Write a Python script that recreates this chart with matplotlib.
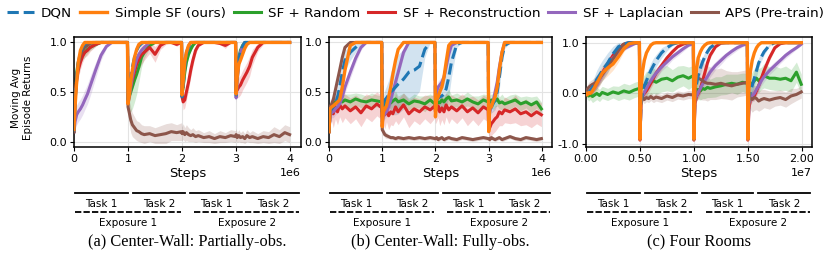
import matplotlib
matplotlib.use('Agg')
import matplotlib.pyplot as plt
from matplotlib.ticker import MultipleLocator, ScalarFormatter, FormatStrFormatter
import numpy as np

# x positions (a, b in units of 1e6 steps; c in units of 1e7 steps)
steps_ab = [0.00, 0.02, 0.05, 0.08, 0.12, 0.16, 0.20, 0.25, 0.30, 0.40, 0.50, 0.60, 0.70, 0.80, 0.90, 0.99,
            1.00, 1.02, 1.05, 1.08, 1.12, 1.16, 1.20, 1.25, 1.30, 1.40, 1.50, 1.60, 1.70, 1.80, 1.90, 1.99,
            2.00, 2.02, 2.05, 2.08, 2.12, 2.16, 2.20, 2.25, 2.30, 2.40, 2.50, 2.60, 2.70, 2.80, 2.90, 2.99,
            3.00, 3.02, 3.05, 3.08, 3.12, 3.16, 3.20, 3.25, 3.30, 3.40, 3.50, 3.60, 3.70, 3.80, 3.90, 3.99]
steps_c = [0.000, 0.010, 0.025, 0.040, 0.060, 0.080, 0.100, 0.125, 0.150, 0.200, 0.250, 0.300, 0.350, 0.400, 0.450, 0.495,
           0.500, 0.510, 0.525, 0.540, 0.560, 0.580, 0.600, 0.625, 0.650, 0.700, 0.750, 0.800, 0.850, 0.900, 0.950, 0.995,
           1.000, 1.010, 1.025, 1.040, 1.060, 1.080, 1.100, 1.125, 1.150, 1.200, 1.250, 1.300, 1.350, 1.400, 1.450, 1.495,
           1.500, 1.510, 1.525, 1.540, 1.560, 1.580, 1.600, 1.625, 1.650, 1.700, 1.750, 1.800, 1.850, 1.900, 1.950, 1.995]

labels = ['DQN', 'Simple SF (ours)', 'SF + Random', 'SF + Reconstruction', 'SF + Laplacian', 'APS (Pre-train)']
colors = ['#1f77b4', '#ff7f0e', '#2ca02c', '#d62728', '#9467bd', '#8c564b']

# ---- (a) Center-Wall: Partially-obs.
a_dqn = [0.10, 0.40, 0.65, 0.80, 0.90, 0.95, 0.98, 1.00, 1.00, 1.00, 1.00, 1.00, 1.00, 1.00, 1.00, 1.00,
         0.40, 0.50, 0.62, 0.75, 0.85, 0.92, 0.96, 0.99, 1.00, 1.00, 1.00, 1.00, 1.00, 1.00, 1.00, 1.00,
         0.45, 0.55, 0.75, 0.88, 0.95, 0.99, 1.00, 1.00, 1.00, 1.00, 1.00, 1.00, 1.00, 1.00, 1.00, 1.00,
         0.45, 0.65, 0.82, 0.90, 0.96, 1.00, 1.00, 1.00, 1.00, 1.00, 1.00, 1.00, 1.00, 1.00, 1.00, 1.00]
a_simple = [0.12, 0.35, 0.60, 0.80, 0.92, 0.97, 1.00, 1.00, 1.00, 1.00, 1.00, 1.00, 1.00, 1.00, 1.00, 1.00,
            0.38, 0.45, 0.60, 0.72, 0.85, 0.93, 0.98, 1.00, 1.00, 1.00, 1.00, 1.00, 1.00, 1.00, 1.00, 1.00,
            0.47, 0.60, 0.80, 0.90, 0.97, 1.00, 1.00, 1.00, 1.00, 1.00, 1.00, 1.00, 1.00, 1.00, 1.00, 1.00,
            0.48, 0.65, 0.78, 0.82, 0.88, 0.94, 0.98, 1.00, 1.00, 1.00, 1.00, 1.00, 1.00, 1.00, 1.00, 1.00]
a_random = [0.10, 0.50, 0.70, 0.80, 0.85, 0.88, 0.90, 0.93, 0.95, 0.98, 1.00, 1.00, 1.00, 1.00, 1.00, 1.00,
            0.40, 0.45, 0.50, 0.55, 0.62, 0.68, 0.75, 0.85, 0.90, 0.97, 1.00, 1.00, 1.00, 1.00, 1.00, 1.00,
            0.48, 0.55, 0.70, 0.80, 0.88, 0.93, 0.97, 1.00, 1.00, 1.00, 1.00, 1.00, 1.00, 1.00, 1.00, 1.00,
            0.50, 0.70, 0.85, 0.92, 0.97, 1.00, 1.00, 1.00, 1.00, 1.00, 1.00, 1.00, 1.00, 1.00, 1.00, 1.00]
a_recon = [0.10, 0.45, 0.62, 0.72, 0.80, 0.86, 0.90, 0.92, 0.95, 0.98, 1.00, 1.00, 1.00, 1.00, 1.00, 1.00,
           0.42, 0.48, 0.55, 0.62, 0.70, 0.78, 0.83, 0.88, 0.90, 0.95, 0.88, 0.97, 1.00, 1.00, 0.98, 1.00,
           0.45, 0.40, 0.42, 0.50, 0.60, 0.72, 0.82, 0.92, 0.97, 1.00, 1.00, 1.00, 0.99, 0.97, 1.00, 1.00,
           0.50, 0.52, 0.55, 0.57, 0.62, 0.66, 0.70, 0.76, 0.85, 0.95, 1.00, 1.00, 1.00, 1.00, 1.00, 1.00]
a_laplacian = [0.10, 0.20, 0.27, 0.30, 0.33, 0.37, 0.42, 0.48, 0.56, 0.72, 0.87, 0.96, 1.00, 1.00, 1.00, 1.00,
               0.38, 0.45, 0.55, 0.65, 0.75, 0.83, 0.88, 0.92, 0.95, 1.00, 1.00, 1.00, 1.00, 1.00, 1.00, 1.00,
               0.50, 0.65, 0.80, 0.90, 0.96, 1.00, 1.00, 1.00, 1.00, 1.00, 1.00, 1.00, 1.00, 1.00, 1.00, 1.00,
               0.44, 0.60, 0.80, 0.90, 0.96, 1.00, 1.00, 1.00, 1.00, 1.00, 1.00, 1.00, 1.00, 1.00, 1.00, 1.00]
a_aps = [0.10, 0.40, 0.65, 0.78, 0.87, 0.92, 0.95, 0.97, 0.99, 1.00, 1.00, 1.00, 1.00, 1.00, 1.00, 1.00,
         0.35, 0.30, 0.22, 0.17, 0.14, 0.11, 0.10, 0.08, 0.07, 0.08, 0.06, 0.07, 0.08, 0.10, 0.09, 0.10,
         0.08, 0.10, 0.07, 0.09, 0.07, 0.06, 0.07, 0.05, 0.06, 0.04, 0.05, 0.03, 0.05, 0.04, 0.06, 0.05,
         0.07, 0.04, 0.06, 0.04, 0.05, 0.03, 0.06, 0.04, 0.05, 0.03, 0.05, 0.04, 0.07, 0.05, 0.09, 0.07]
a_random_sd = [0.02, 0.10, 0.10, 0.08, 0.06, 0.05, 0.05, 0.04, 0.03, 0.02, 0.00, 0.00, 0.00, 0.00, 0.00, 0.00,
               0.05, 0.15, 0.20, 0.22, 0.22, 0.20, 0.15, 0.10, 0.06, 0.03, 0.00, 0.00, 0.00, 0.00, 0.00, 0.00,
               0.05, 0.08, 0.08, 0.05, 0.03, 0.02, 0.00, 0.00, 0.00, 0.00, 0.00, 0.00, 0.00, 0.00, 0.00, 0.00,
               0.05, 0.08, 0.05, 0.03, 0.02, 0.00, 0.00, 0.00, 0.00, 0.00, 0.00, 0.00, 0.00, 0.00, 0.00, 0.00]
a_recon_sd = [0.02, 0.12, 0.10, 0.08, 0.07, 0.06, 0.05, 0.05, 0.04, 0.02, 0.00, 0.00, 0.00, 0.00, 0.00, 0.00,
              0.05, 0.08, 0.10, 0.10, 0.10, 0.10, 0.10, 0.10, 0.08, 0.06, 0.08, 0.04, 0.02, 0.00, 0.02, 0.00,
              0.05, 0.08, 0.08, 0.08, 0.08, 0.07, 0.06, 0.04, 0.02, 0.00, 0.00, 0.00, 0.01, 0.03, 0.00, 0.00,
              0.05, 0.08, 0.10, 0.10, 0.10, 0.10, 0.10, 0.10, 0.08, 0.04, 0.02, 0.00, 0.00, 0.00, 0.00, 0.00]
a_laplacian_sd = [0.02, 0.08, 0.10, 0.10, 0.10, 0.10, 0.10, 0.10, 0.10, 0.08, 0.05, 0.02, 0.00, 0.00, 0.00, 0.00,
                  0.05, 0.08, 0.08, 0.08, 0.06, 0.05, 0.04, 0.03, 0.02, 0.00, 0.00, 0.00, 0.00, 0.00, 0.00, 0.00,
                  0.05, 0.06, 0.05, 0.03, 0.02, 0.00, 0.00, 0.00, 0.00, 0.00, 0.00, 0.00, 0.00, 0.00, 0.00, 0.00,
                  0.05, 0.08, 0.06, 0.04, 0.02, 0.00, 0.00, 0.00, 0.00, 0.00, 0.00, 0.00, 0.00, 0.00, 0.00, 0.00]
a_aps_sd = [0.02, 0.05, 0.05, 0.04, 0.03, 0.02, 0.02, 0.01, 0.01, 0.00, 0.00, 0.00, 0.00, 0.00, 0.00, 0.00,
            0.08, 0.12, 0.13, 0.12, 0.11, 0.10, 0.10, 0.09, 0.09, 0.08, 0.08, 0.09, 0.10, 0.09, 0.08, 0.09,
            0.07, 0.08, 0.07, 0.08, 0.07, 0.06, 0.07, 0.06, 0.06, 0.05, 0.06, 0.05, 0.06, 0.05, 0.06, 0.06,
            0.06, 0.05, 0.06, 0.05, 0.06, 0.05, 0.06, 0.05, 0.06, 0.05, 0.06, 0.06, 0.08, 0.07, 0.08, 0.08]

# ---- (b) Center-Wall: Fully-obs.
b_dqn = [0.10, 0.30, 0.33, 0.35, 0.38, 0.45, 0.55, 0.70, 0.82, 0.90, 0.95, 1.00, 1.00, 1.00, 1.00, 1.00,
         0.30, 0.38, 0.42, 0.44, 0.47, 0.50, 0.52, 0.55, 0.58, 0.63, 0.70, 0.72, 0.76, 0.93, 1.00, 1.00,
         0.40, 0.42, 0.44, 0.45, 0.46, 0.48, 0.53, 0.65, 0.80, 0.98, 1.00, 1.00, 1.00, 1.00, 1.00, 1.00,
         0.25, 0.32, 0.35, 0.38, 0.42, 0.50, 0.65, 0.85, 0.97, 1.00, 1.00, 1.00, 1.00, 1.00, 1.00, 1.00]
b_simple = [0.10, 0.33, 0.35, 0.36, 0.38, 0.40, 0.42, 0.55, 0.72, 0.97, 1.00, 1.00, 1.00, 1.00, 1.00, 1.00,
            0.15, 0.30, 0.33, 0.36, 0.45, 0.55, 0.68, 0.82, 0.93, 1.00, 1.00, 1.00, 1.00, 1.00, 1.00, 1.00,
            0.25, 0.42, 0.45, 0.50, 0.55, 0.65, 0.80, 0.97, 1.00, 1.00, 1.00, 1.00, 1.00, 1.00, 1.00, 1.00,
            0.10, 0.35, 0.35, 0.40, 0.45, 0.55, 0.72, 0.90, 1.00, 1.00, 1.00, 1.00, 1.00, 1.00, 1.00, 1.00]
b_random = [0.10, 0.30, 0.36, 0.38, 0.40, 0.39, 0.41, 0.40, 0.42, 0.40, 0.43, 0.41, 0.40, 0.42, 0.41, 0.40,
            0.30, 0.36, 0.38, 0.40, 0.42, 0.39, 0.41, 0.43, 0.40, 0.42, 0.38, 0.41, 0.40, 0.38, 0.42, 0.38,
            0.36, 0.38, 0.40, 0.39, 0.42, 0.40, 0.43, 0.45, 0.41, 0.42, 0.40, 0.43, 0.40, 0.38, 0.42, 0.40,
            0.38, 0.40, 0.42, 0.40, 0.41, 0.43, 0.39, 0.40, 0.38, 0.40, 0.42, 0.38, 0.40, 0.37, 0.40, 0.33]
b_recon = [0.10, 0.30, 0.33, 0.28, 0.35, 0.30, 0.37, 0.33, 0.36, 0.31, 0.35, 0.29, 0.36, 0.33, 0.38, 0.34,
           0.25, 0.30, 0.27, 0.32, 0.26, 0.30, 0.28, 0.35, 0.30, 0.37, 0.28, 0.33, 0.30, 0.35, 0.32, 0.36,
           0.30, 0.33, 0.36, 0.30, 0.34, 0.30, 0.37, 0.32, 0.35, 0.31, 0.36, 0.30, 0.34, 0.29, 0.35, 0.32,
           0.12, 0.14, 0.18, 0.20, 0.23, 0.25, 0.30, 0.28, 0.32, 0.30, 0.33, 0.28, 0.30, 0.26, 0.30, 0.27]
b_laplacian = [0.10, 0.25, 0.30, 0.30, 0.33, 0.35, 0.38, 0.45, 0.55, 0.70, 0.84, 0.95, 1.00, 1.00, 1.00, 1.00,
               0.20, 0.25, 0.28, 0.30, 0.35, 0.42, 0.50, 0.60, 0.70, 0.90, 1.00, 1.00, 1.00, 1.00, 1.00, 1.00,
               0.30, 0.50, 0.55, 0.57, 0.60, 0.65, 0.75, 0.88, 0.97, 1.00, 1.00, 1.00, 1.00, 1.00, 1.00, 1.00,
               0.25, 0.30, 0.35, 0.40, 0.50, 0.60, 0.75, 0.90, 1.00, 1.00, 1.00, 1.00, 1.00, 1.00, 1.00, 1.00]
b_aps = [0.10, 0.35, 0.38, 0.42, 0.52, 0.62, 0.72, 0.85, 0.95, 1.00, 1.00, 1.00, 1.00, 1.00, 1.00, 1.00,
         0.12, 0.10, 0.07, 0.06, 0.05, 0.04, 0.04, 0.03, 0.04, 0.03, 0.04, 0.03, 0.04, 0.03, 0.04, 0.03,
         0.03, 0.04, 0.02, 0.03, 0.04, 0.02, 0.03, 0.04, 0.03, 0.02, 0.04, 0.03, 0.02, 0.03, 0.04, 0.03,
         0.03, 0.02, 0.04, 0.03, 0.02, 0.03, 0.04, 0.02, 0.03, 0.05, 0.03, 0.02, 0.04, 0.03, 0.02, 0.03]
b_dqn_sd = [0.02, 0.05, 0.05, 0.06, 0.08, 0.10, 0.12, 0.12, 0.10, 0.08, 0.05, 0.02, 0.00, 0.00, 0.00, 0.00,
            0.05, 0.08, 0.10, 0.12, 0.15, 0.20, 0.25, 0.28, 0.30, 0.30, 0.30, 0.28, 0.25, 0.08, 0.00, 0.00,
            0.05, 0.08, 0.10, 0.12, 0.14, 0.16, 0.20, 0.20, 0.15, 0.03, 0.00, 0.00, 0.00, 0.00, 0.00, 0.00,
            0.05, 0.06, 0.06, 0.08, 0.10, 0.12, 0.12, 0.08, 0.03, 0.00, 0.00, 0.00, 0.00, 0.00, 0.00, 0.00]
b_random_sd = [0.02, 0.06, 0.06, 0.07, 0.06, 0.08, 0.06, 0.07, 0.06, 0.08, 0.06, 0.07, 0.06, 0.07, 0.06, 0.06,
               0.06, 0.07, 0.06, 0.08, 0.06, 0.07, 0.06, 0.08, 0.06, 0.07, 0.06, 0.07, 0.06, 0.08, 0.06, 0.07,
               0.06, 0.07, 0.06, 0.08, 0.06, 0.07, 0.06, 0.08, 0.06, 0.07, 0.06, 0.07, 0.06, 0.08, 0.06, 0.07,
               0.06, 0.07, 0.06, 0.08, 0.06, 0.07, 0.06, 0.08, 0.06, 0.07, 0.06, 0.07, 0.06, 0.08, 0.06, 0.07]
b_recon_sd = [0.02, 0.12, 0.12, 0.14, 0.12, 0.13, 0.12, 0.14, 0.12, 0.13, 0.12, 0.14, 0.12, 0.13, 0.12, 0.12,
              0.12, 0.13, 0.14, 0.12, 0.14, 0.13, 0.12, 0.14, 0.13, 0.12, 0.14, 0.12, 0.13, 0.12, 0.14, 0.12,
              0.12, 0.13, 0.12, 0.14, 0.12, 0.13, 0.12, 0.14, 0.12, 0.13, 0.12, 0.14, 0.12, 0.13, 0.12, 0.12,
              0.08, 0.10, 0.12, 0.12, 0.13, 0.12, 0.14, 0.12, 0.13, 0.12, 0.14, 0.12, 0.13, 0.12, 0.12, 0.12]
b_laplacian_sd = [0.02, 0.06, 0.06, 0.06, 0.06, 0.06, 0.06, 0.06, 0.06, 0.06, 0.05, 0.03, 0.00, 0.00, 0.00, 0.00,
                  0.04, 0.05, 0.05, 0.05, 0.06, 0.06, 0.06, 0.06, 0.05, 0.04, 0.00, 0.00, 0.00, 0.00, 0.00, 0.00,
                  0.05, 0.06, 0.06, 0.06, 0.06, 0.06, 0.05, 0.04, 0.02, 0.00, 0.00, 0.00, 0.00, 0.00, 0.00, 0.00,
                  0.05, 0.05, 0.05, 0.05, 0.06, 0.06, 0.05, 0.03, 0.00, 0.00, 0.00, 0.00, 0.00, 0.00, 0.00, 0.00]
b_aps_sd = [0.02, 0.06, 0.06, 0.06, 0.06, 0.05, 0.05, 0.04, 0.02, 0.00, 0.00, 0.00, 0.00, 0.00, 0.00, 0.00,
            0.05, 0.04, 0.03, 0.03, 0.02, 0.02, 0.02, 0.02, 0.02, 0.02, 0.02, 0.02, 0.02, 0.02, 0.02, 0.02,
            0.02, 0.02, 0.02, 0.02, 0.02, 0.02, 0.02, 0.02, 0.02, 0.02, 0.02, 0.02, 0.02, 0.02, 0.02, 0.02,
            0.02, 0.02, 0.02, 0.02, 0.02, 0.02, 0.02, 0.02, 0.02, 0.02, 0.02, 0.02, 0.02, 0.02, 0.02, 0.02]

# ---- (c) Four Rooms
c_dqn = [0.00, 0.00, 0.03, 0.06, 0.12, 0.20, 0.28, 0.36, 0.45, 0.60, 0.78, 0.92, 0.98, 1.00, 1.00, 1.00,
         -0.90, -0.20, 0.05, 0.15, 0.25, 0.35, 0.45, 0.55, 0.65, 0.80, 0.90, 0.97, 1.00, 1.00, 1.00, 1.00,
         -0.90, 0.00, 0.20, 0.35, 0.50, 0.62, 0.72, 0.82, 0.90, 0.98, 1.00, 1.00, 1.00, 1.00, 1.00, 1.00,
         -0.90, -0.10, 0.05, 0.15, 0.30, 0.45, 0.60, 0.72, 0.82, 0.95, 1.00, 1.00, 1.00, 1.00, 1.00, 1.00]
c_simple = [0.00, -0.03, 0.02, 0.00, 0.05, 0.12, 0.20, 0.30, 0.40, 0.50, 0.58, 0.72, 0.88, 0.98, 1.00, 1.00,
            -0.90, 0.10, 0.45, 0.65, 0.80, 0.88, 0.95, 0.99, 1.00, 1.00, 1.00, 1.00, 1.00, 1.00, 1.00, 1.00,
            -0.90, 0.10, 0.50, 0.70, 0.82, 0.90, 0.95, 0.99, 1.00, 1.00, 1.00, 1.00, 1.00, 1.00, 1.00, 1.00,
            -0.90, 0.10, 0.45, 0.65, 0.80, 0.90, 0.96, 1.00, 1.00, 1.00, 1.00, 1.00, 1.00, 1.00, 1.00, 1.00]
c_random = [0.00, -0.03, -0.05, -0.02, -0.06, -0.03, 0.00, -0.04, 0.02, -0.02, 0.03, 0.00, 0.05, 0.02, 0.07, 0.10,
            0.05, 0.10, 0.12, 0.15, 0.20, 0.17, 0.22, 0.25, 0.22, 0.28, 0.30, 0.25, 0.32, 0.35, 0.30, 0.35,
            0.30, 0.10, 0.05, 0.08, 0.05, 0.10, 0.08, 0.12, 0.10, 0.13, 0.15, 0.18, 0.20, 0.18, 0.22, 0.20,
            0.20, 0.15, 0.15, 0.20, 0.25, 0.30, 0.25, 0.30, 0.35, 0.30, 0.30, 0.28, 0.30, 0.25, 0.42, 0.18]
c_recon = [0.00, 0.00, 0.02, 0.05, 0.10, 0.15, 0.20, 0.30, 0.40, 0.58, 0.75, 0.88, 0.97, 1.00, 1.00, 1.00,
           -0.92, -0.20, -0.05, 0.00, 0.05, 0.12, 0.20, 0.30, 0.40, 0.55, 0.70, 0.82, 0.92, 0.97, 1.00, 1.00,
           -0.92, -0.20, -0.05, 0.00, 0.10, 0.25, 0.40, 0.60, 0.75, 0.92, 0.99, 1.00, 1.00, 1.00, 1.00, 1.00,
           -0.92, -0.30, -0.10, -0.05, -0.05, 0.05, 0.15, 0.30, 0.45, 0.70, 0.90, 0.98, 1.00, 1.00, 1.00, 1.00]
c_laplacian = [0.00, 0.00, 0.02, 0.04, 0.08, 0.12, 0.18, 0.28, 0.38, 0.55, 0.70, 0.80, 0.88, 0.93, 0.98, 1.00,
               -0.90, -0.15, -0.05, 0.02, 0.10, 0.18, 0.25, 0.33, 0.40, 0.52, 0.62, 0.72, 0.80, 0.88, 0.95, 0.98,
               -0.90, -0.10, -0.05, 0.02, 0.10, 0.18, 0.25, 0.33, 0.42, 0.55, 0.65, 0.75, 0.83, 0.90, 0.95, 0.98,
               -0.90, -0.20, -0.10, -0.05, 0.00, 0.08, 0.15, 0.25, 0.33, 0.45, 0.55, 0.65, 0.75, 0.83, 0.90, 0.97]
c_aps = [0.05, 0.08, 0.12, 0.15, 0.18, 0.20, 0.25, 0.30, 0.37, 0.52, 0.68, 0.85, 0.97, 1.00, 1.00, 1.00,
         -0.10, -0.10, -0.08, -0.12, -0.08, -0.10, -0.06, -0.10, -0.07, -0.10, -0.05, -0.08, -0.03, -0.05, -0.02, -0.03,
         0.20, 0.30, 0.35, 0.30, 0.28, 0.25, 0.22, 0.20, 0.20, 0.18, 0.20, 0.17, 0.15, 0.18, 0.20, 0.22,
         -0.05, -0.05, -0.10, -0.12, -0.08, -0.10, -0.15, -0.12, -0.10, -0.13, -0.10, -0.08, -0.12, -0.05, -0.02, 0.03]
c_dqn_sd = [0.02, 0.05, 0.08, 0.10, 0.12, 0.15, 0.18, 0.20, 0.20, 0.20, 0.15, 0.08, 0.03, 0.00, 0.00, 0.00,
            0.02, 0.15, 0.15, 0.15, 0.15, 0.15, 0.15, 0.15, 0.12, 0.10, 0.06, 0.03, 0.00, 0.00, 0.00, 0.00,
            0.02, 0.15, 0.15, 0.15, 0.12, 0.10, 0.08, 0.06, 0.04, 0.02, 0.00, 0.00, 0.00, 0.00, 0.00, 0.00,
            0.02, 0.15, 0.15, 0.15, 0.15, 0.12, 0.10, 0.08, 0.06, 0.02, 0.00, 0.00, 0.00, 0.00, 0.00, 0.00]
c_simple_sd = [0.02, 0.05, 0.08, 0.10, 0.12, 0.15, 0.15, 0.15, 0.15, 0.15, 0.12, 0.10, 0.06, 0.02, 0.00, 0.00,
               0.02, 0.10, 0.08, 0.06, 0.04, 0.02, 0.00, 0.00, 0.00, 0.00, 0.00, 0.00, 0.00, 0.00, 0.00, 0.00,
               0.02, 0.10, 0.08, 0.06, 0.04, 0.02, 0.00, 0.00, 0.00, 0.00, 0.00, 0.00, 0.00, 0.00, 0.00, 0.00,
               0.02, 0.10, 0.08, 0.06, 0.04, 0.02, 0.00, 0.00, 0.00, 0.00, 0.00, 0.00, 0.00, 0.00, 0.00, 0.00]
c_random_sd = [0.05, 0.08, 0.10, 0.10, 0.12, 0.12, 0.12, 0.12, 0.12, 0.12, 0.12, 0.14, 0.15, 0.15, 0.15, 0.15,
               0.15, 0.18, 0.20, 0.22, 0.24, 0.25, 0.25, 0.25, 0.24, 0.25, 0.25, 0.22, 0.22, 0.20, 0.22, 0.20,
               0.20, 0.18, 0.18, 0.20, 0.18, 0.20, 0.18, 0.20, 0.18, 0.20, 0.18, 0.20, 0.18, 0.20, 0.18, 0.20,
               0.20, 0.20, 0.22, 0.22, 0.24, 0.22, 0.24, 0.22, 0.24, 0.22, 0.24, 0.22, 0.24, 0.22, 0.20, 0.20]
c_recon_sd = [0.02, 0.04, 0.06, 0.08, 0.10, 0.10, 0.10, 0.10, 0.10, 0.08, 0.06, 0.04, 0.02, 0.00, 0.00, 0.00,
              0.02, 0.10, 0.10, 0.10, 0.10, 0.10, 0.10, 0.10, 0.10, 0.08, 0.06, 0.04, 0.02, 0.00, 0.00, 0.00,
              0.02, 0.10, 0.10, 0.10, 0.10, 0.10, 0.10, 0.08, 0.06, 0.03, 0.00, 0.00, 0.00, 0.00, 0.00, 0.00,
              0.02, 0.10, 0.10, 0.10, 0.10, 0.10, 0.10, 0.10, 0.08, 0.06, 0.03, 0.00, 0.00, 0.00, 0.00, 0.00]
c_laplacian_sd = [0.02, 0.04, 0.06, 0.08, 0.08, 0.08, 0.08, 0.08, 0.08, 0.08, 0.06, 0.05, 0.04, 0.03, 0.02, 0.00,
                  0.02, 0.10, 0.10, 0.10, 0.10, 0.10, 0.10, 0.10, 0.10, 0.08, 0.08, 0.06, 0.06, 0.05, 0.03, 0.02,
                  0.02, 0.10, 0.10, 0.10, 0.10, 0.10, 0.10, 0.10, 0.10, 0.08, 0.08, 0.06, 0.06, 0.05, 0.03, 0.02,
                  0.02, 0.12, 0.12, 0.12, 0.12, 0.10, 0.10, 0.10, 0.10, 0.08, 0.08, 0.06, 0.06, 0.05, 0.03, 0.02]
c_aps_sd = [0.05, 0.08, 0.10, 0.10, 0.10, 0.12, 0.12, 0.12, 0.12, 0.10, 0.08, 0.05, 0.02, 0.00, 0.00, 0.00,
            0.08, 0.08, 0.08, 0.08, 0.08, 0.08, 0.08, 0.08, 0.08, 0.08, 0.08, 0.08, 0.08, 0.08, 0.08, 0.08,
            0.25, 0.35, 0.40, 0.40, 0.40, 0.38, 0.35, 0.35, 0.32, 0.30, 0.30, 0.28, 0.28, 0.25, 0.25, 0.25,
            0.15, 0.20, 0.22, 0.25, 0.25, 0.22, 0.20, 0.20, 0.18, 0.18, 0.15, 0.15, 0.15, 0.15, 0.12, 0.12]

panels = [
    (steps_ab, 1e6, [a_dqn, a_simple, a_random, a_recon, a_laplacian, a_aps],
     [None, None, a_random_sd, a_recon_sd, a_laplacian_sd, a_aps_sd]),
    (steps_ab, 1e6, [b_dqn, b_simple, b_random, b_recon, b_laplacian, b_aps],
     [b_dqn_sd, None, b_random_sd, b_recon_sd, b_laplacian_sd, b_aps_sd]),
    (steps_c, 1e7, [c_dqn, c_simple, c_random, c_recon, c_laplacian, c_aps],
     [c_dqn_sd, c_simple_sd, c_random_sd, c_recon_sd, c_laplacian_sd, c_aps_sd]),
]
captions = ['(a) Center-Wall: Partially-obs.', '(b) Center-Wall: Fully-obs.', '(c) Four Rooms']
zorders = [6, 7, 2, 3, 4, 5]


class TwoDecimals(ScalarFormatter):
    def _set_format(self):
        self.format = '%1.2f'


fig = plt.figure(figsize=(8.31, 2.59), dpi=100)
axes_rects = [[0.0890, 0.4324, 0.2732, 0.4247],
              [0.3959, 0.4324, 0.2684, 0.4247],
              [0.7052, 0.4324, 0.2720, 0.4247]]
xlims = [(0, 4.2e6), (0, 4.19e6), (0, 2.095e7)]
ylims = [(-0.055, 1.055), (-0.055, 1.055), (-1.055, 1.112)]

handles = []
for i, (steps, scale, series, spreads) in enumerate(panels):
    ax = fig.add_axes(axes_rects[i])
    x = np.array(steps) * scale
    for j in range(6):
        y = np.array(series[j])
        if spreads[j] is not None:
            sd = np.array(spreads[j])
            ax.fill_between(x, y - sd, y + sd, color=colors[j], alpha=0.2, lw=0, zorder=1)
        ls = '--' if j == 0 else '-'
        lw = 2.4 if j == 1 else 2.2
        ln, = ax.plot(x, y, color=colors[j], ls=ls, lw=lw, zorder=zorders[j], label=labels[j])
        if i == 0:
            handles.append(ln)
    ax.set_xlim(*xlims[i])
    ax.set_ylim(*ylims[i])
    if i < 2:
        ax.xaxis.set_major_locator(MultipleLocator(1e6))
        ax.set_yticks([0.0, 0.5, 1.0])
    else:
        ax.xaxis.set_major_locator(MultipleLocator(5e6))
        ax.xaxis.set_major_formatter(TwoDecimals())
        ax.set_yticks([-1.0, 0.0, 1.0])
    ax.yaxis.set_major_formatter(FormatStrFormatter('%.1f'))
    ax.grid(True, color='#e3e3e3', lw=0.8)
    ax.set_axisbelow(True)
    ax.tick_params(labelsize=8, length=3, pad=2)
    ax.xaxis.get_offset_text().set_fontsize(8)
    for sp in ax.spines.values():
        sp.set_linewidth(1.1)
    ax.set_xlabel('Steps', fontsize=9.5, labelpad=2)

    # task / exposure annotations under each panel
    tr = ax.transAxes
    for (x0, x1), name in zip([(0.005, 0.237), (0.26, 0.49), (0.512, 0.74), (0.762, 0.993)],
                              ['Task 1', 'Task 2', 'Task 1', 'Task 2']):
        ax.plot([x0, x1], [-0.421, -0.421], color='black', lw=1.3, transform=tr, clip_on=False)
        ax.text((x0 + x1) / 2, -0.515, name, transform=tr, ha='center', va='center', fontsize=7.5)
    for (x0, x1), name in zip([(0.005, 0.47), (0.53, 0.993)], ['Exposure 1', 'Exposure 2']):
        ax.plot([x0, x1], [-0.594, -0.594], color='black', lw=1.3, ls=(0, (3.5, 1.2)),
                transform=tr, clip_on=False)
        ax.text((x0 + x1) / 2, -0.688, name, transform=tr, ha='center', va='center', fontsize=7.5)
    ax.text(0.5, -0.865, captions[i], transform=tr, ha='center', va='center',
            fontsize=11.8, family='Liberation Serif')

    if i == 0:
        ax.set_ylabel('Moving Avg\nEpisode Returns', fontsize=7.5)
        ax.yaxis.set_label_coords(-0.18, 0.45)

fig.legend(handles, labels, loc='upper center', bbox_to_anchor=(0.5, 1.0), ncol=6,
           frameon=False, fontsize=9.7, handlelength=2.0, handletextpad=0.55,
           columnspacing=0.6, borderaxespad=0.1)

fig.savefig('out.png', dpi=100)
